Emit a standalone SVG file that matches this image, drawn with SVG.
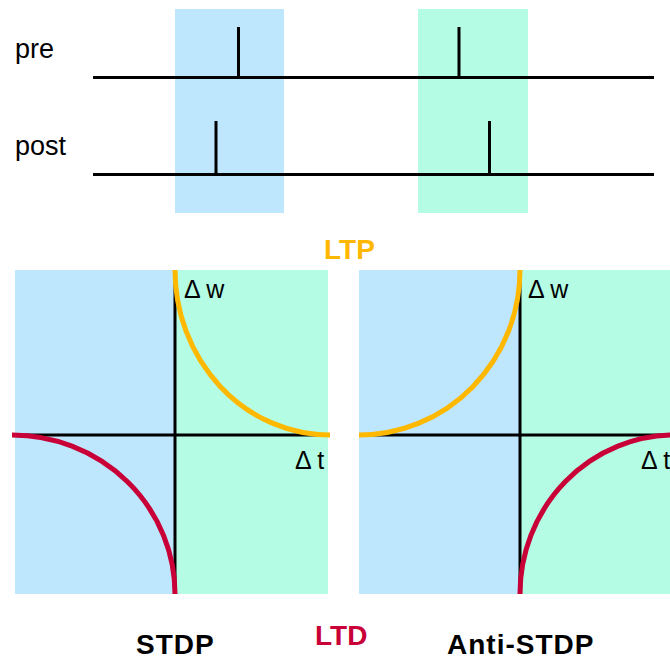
<svg xmlns="http://www.w3.org/2000/svg" width="670" height="659" viewBox="0 0 670 659">
  <style>
    .blue { fill: #BEE6FC; }
    .green { fill: #B4FDE4; }
    .line { stroke: #000; stroke-width: 3; fill: none; }
    .ltp { stroke: #FFB800; stroke-width: 5; fill: none; }
    .ltd { stroke: #C80037; stroke-width: 5; fill: none; }
    .lbl { font-family: "Liberation Sans", Arial, sans-serif; fill: #000; }
    .big { font-family: "Liberation Sans", Arial, sans-serif; font-weight: bold; font-size: 28px; }
  </style>

  <!-- spike trains -->
  <g id="spike-trains">
    <rect class="blue" x="175" y="9" width="109" height="204"/>
    <rect class="green" x="418" y="9" width="110" height="204"/>
    <text class="lbl" x="15" y="58" font-size="27">pre</text>
    <text class="lbl" x="15" y="155" font-size="27">post</text>
    <line class="line" x1="93" y1="77.5" x2="654" y2="77.5"/>
    <line class="line" x1="93" y1="174.5" x2="654" y2="174.5"/>
    <line class="line" x1="238.5" y1="27" x2="238.5" y2="79"/>
    <line class="line" x1="459" y1="27" x2="459" y2="79"/>
    <line class="line" x1="216" y1="121" x2="216" y2="175"/>
    <line class="line" x1="489.5" y1="121" x2="489.5" y2="175" stroke-width="4"/>
  </g>

  <!-- STDP plot -->
  <g id="stdp">
    <rect class="blue" x="15" y="270" width="160" height="324"/>
    <rect class="green" x="175" y="270" width="153" height="324"/>
    <line class="line" x1="12" y1="435" x2="330" y2="435"/>
    <line class="line" x1="175" y1="270" x2="175" y2="594"/>
    <path class="ltp" d="M175,270 A155,165 0 0 0 330,435"/>
    <path class="ltd" d="M12,435 A163,159 0 0 1 175,594"/>
    <text class="lbl" x="184" y="298" font-size="25">Δ w</text>
    <text class="lbl" x="295" y="469" font-size="25">Δ t</text>
    <text class="big" x="136" y="654" letter-spacing="1">STDP</text>
  </g>

  <!-- Anti-STDP plot -->
  <g id="anti-stdp">
    <rect class="blue" x="359" y="270" width="161" height="324"/>
    <rect class="green" x="520" y="270" width="150" height="324"/>
    <line class="line" x1="359" y1="435" x2="670" y2="435"/>
    <line class="line" x1="520" y1="270" x2="520" y2="594"/>
    <path class="ltp" d="M359,435 A161,165 0 0 0 520,270"/>
    <path class="ltd" d="M520,594 A155,159 0 0 1 675,435"/>
    <text class="lbl" x="528" y="298" font-size="25">Δ w</text>
    <text class="lbl" x="641" y="469" font-size="25">Δ t</text>
    <text class="big" x="447" y="654" letter-spacing="1">Anti-STDP</text>
  </g>

  <!-- legend labels -->
  <g id="labels">
    <text class="big" x="324" y="259" fill="#FFB800" font-size="29">LTP</text>
    <text class="big" x="315" y="645" fill="#C80037" font-size="29">LTD</text>
  </g>
</svg>
